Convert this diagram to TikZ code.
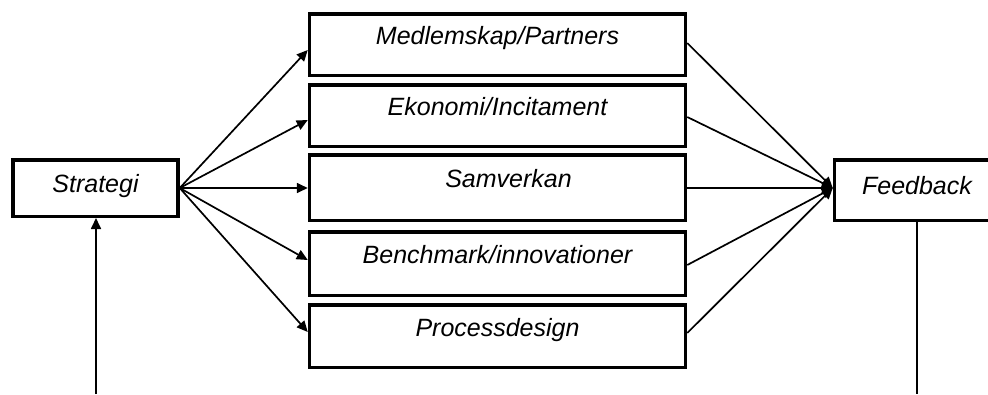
\documentclass[tikz,border=0pt]{standalone}
\usepackage{fontspec}
\setmainfont{Liberation Sans}
\usetikzlibrary{arrows.meta,calc}
\begin{document}
\begin{tikzpicture}[x=1pt,y=-1pt,
  box/.style={draw,line width=3.5pt,inner sep=0pt,
    font=\fontsize{25}{30}\selectfont\itshape},
  midbox/.style={box,minimum width=376pt,text height=18pt,text depth=18pt},
  sidebox/.style={box,minimum width=165pt,text height=17pt,text depth=8pt},
  conn/.style={line width=1.7pt,-{Triangle[length=11pt,width=10pt]}},
  plainline/.style={line width=1.7pt}]
\useasboundingbox (0,0) rectangle (988,394);
\clip (0,0) rectangle (988,394);

% side boxes
\node[sidebox,minimum height=56.5pt] (strategi) at (95.5,188) {Strategi};
\node[sidebox,minimum height=60.5pt] (feedback) at (917,190) {Feedback};

% central column of boxes
\node[midbox,minimum height=61.5pt] (medlem) at (497.5,44.5) {Medlemskap/Partners};
\node[midbox,minimum height=61.5pt] (ekonomi) at (497.5,115.5) {Ekonomi/Incitament};
\node[midbox,minimum height=65.5pt] (samverkan) at (497.5,187.5) {\hspace*{22pt}Samverkan};
\node[midbox,minimum height=63.5pt] (bench) at (497.5,263.5) {Benchmark/innovationer};
\node[midbox,minimum height=62.5pt] (process) at (497.5,336) {Processdesign};

% fan out from Strategi
\draw[conn] (strategi.east) -- ($(medlem.west)+(0,5.5)$);
\draw[conn] (strategi.east) -- ($(ekonomi.west)+(0,4.5)$);
\draw[conn] (strategi.east) -- ($(samverkan.west)+(0,0.5)$);
\draw[conn] (strategi.east) -- ($(bench.west)+(0,-3.5)$);
\draw[conn] (strategi.east) -- ($(process.west)+(0,-4)$);

% fan in to Feedback
\coordinate (fin) at ($(feedback.west)+(0,-2)$);
\draw[conn] ($(medlem.east)+(0,-1.5)$) -- (fin);
\draw[conn] ($(ekonomi.east)+(0,1.5)$) -- (fin);
\draw[conn] ($(samverkan.east)+(0,0.5)$) -- (fin);
\draw[conn] ($(bench.east)+(0,1.5)$) -- (fin);
\draw[conn] ($(process.east)+(0,-3)$) -- (fin);

% feedback loop stubs
\coordinate (loopin) at (96,394);
\coordinate (loopout) at (917,394);
\draw[conn] (loopin) -- (loopin |- strategi.south);
\draw[plainline] (feedback.south) -- (loopout);
\end{tikzpicture}
\end{document}
